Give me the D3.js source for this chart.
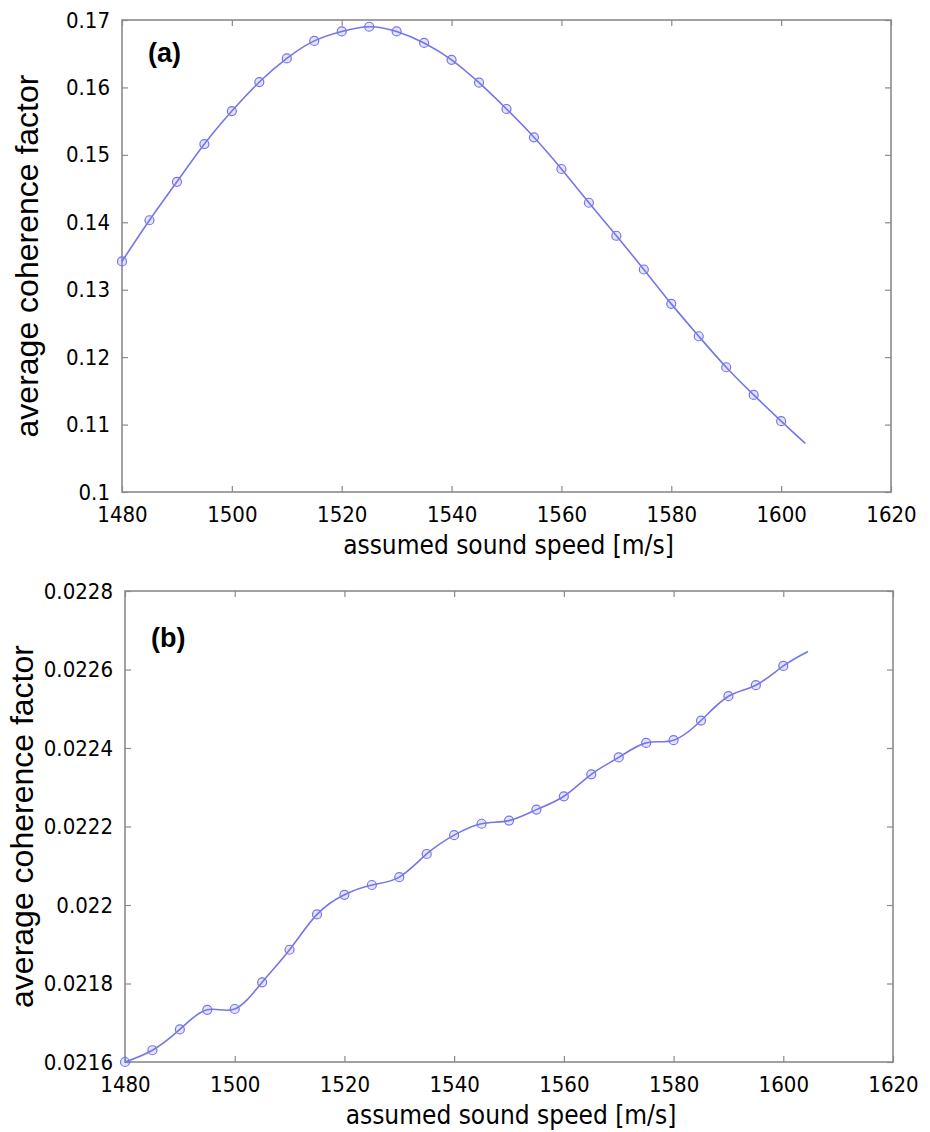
<!DOCTYPE html>
<html>
<head>
<meta charset="utf-8">
<script src="https://cdn.jsdelivr.net/npm/d3@7"></script>
<style>
  body { margin: 0; background: #fff; }
  .tick text { font-family: "DejaVu Sans Condensed", "DejaVu Sans", sans-serif; font-size: 22px; fill: #000; }
</style>
</head>
<body>
<div id="chart"></div>
<script>
// ---- data ----
const speeds = [1480, 1485, 1490, 1495, 1500, 1505, 1510, 1515, 1520, 1525, 1530, 1535, 1540,
                1545, 1550, 1555, 1560, 1565, 1570, 1575, 1580, 1585, 1590, 1595, 1600];
const coherenceA = [0.1342, 0.1403, 0.1460, 0.1516, 0.1565, 0.1608, 0.1643, 0.1669, 0.1683, 0.1690,
                    0.1683, 0.1666, 0.1641, 0.1607, 0.1568, 0.1526, 0.1479, 0.1429, 0.1380, 0.1330,
                    0.1279, 0.1231, 0.1185, 0.1144, 0.1105];
const coherenceB = [0.02160, 0.02163, 0.021683, 0.021733, 0.021735, 0.021803, 0.021886, 0.021976, 0.022026,
                    0.022051, 0.022071, 0.02213, 0.022178, 0.022207, 0.022215, 0.022243, 0.022277, 0.022333,
                    0.022376, 0.022413, 0.02242, 0.02247, 0.022532, 0.02256, 0.022609];
// the fitted curve runs a little past the last sample
const tailA = [1604.4, 0.1072];
const tailB = [1604.5, 0.022646];

const xTicks = [1480, 1500, 1520, 1540, 1560, 1580, 1600, 1620];
const yTicksA = [0.1, 0.11, 0.12, 0.13, 0.14, 0.15, 0.16, 0.17];
const yTicksB = [0.0216, 0.0218, 0.022, 0.0222, 0.0224, 0.0226, 0.0228];

const lineColor = "#7676e8";
const frameColor = "#8a8a8a";

const svg = d3.select("#chart").append("svg")
    .attr("width", 930)
    .attr("height", 1132);

function panel(opt) {
    const w = opt.right - opt.left, h = opt.bottom - opt.top;
    const g = svg.append("g").attr("transform", `translate(${opt.left},${opt.top})`);

    const x = d3.scaleLinear().domain([1480, 1620]).range([0, w]);
    const y = d3.scaleLinear().domain(d3.extent(opt.yTicks)).range([h, 0]);

    // axes, ticks pointing inward
    g.append("g").attr("transform", `translate(0,${h})`)
        .call(d3.axisBottom(x).tickValues(xTicks).tickSize(-6).tickPadding(14).tickFormat(d3.format("d")));
    g.append("g")
        .call(d3.axisTop(x).tickValues(xTicks).tickSize(-6).tickFormat(""));
    g.append("g")
        .call(d3.axisLeft(y).tickValues(opt.yTicks).tickSize(-6).tickPadding(12).tickFormat(opt.fmt));
    g.append("g").attr("transform", `translate(${w},0)`)
        .call(d3.axisRight(y).tickValues(opt.yTicks).tickSize(-6).tickFormat(""));

    g.selectAll(".domain").remove();
    g.selectAll(".tick line").attr("stroke", frameColor).attr("stroke-width", 1.2);

    g.append("rect")
        .attr("width", w).attr("height", h)
        .attr("fill", "none")
        .attr("stroke", frameColor)
        .attr("stroke-width", 1.6);

    const pts = speeds.map((s, i) => [s, opt.values[i]]);
    const line = d3.line()
        .x(d => x(d[0]))
        .y(d => y(d[1]))
        .curve(d3.curveNatural);

    g.append("path")
        .datum(pts.concat([opt.tail]))
        .attr("fill", "none")
        .attr("stroke", lineColor)
        .attr("stroke-width", 1.6)
        .attr("d", line);

    g.selectAll(".mk").data(pts).enter().append("circle")
        .attr("class", "mk")
        .attr("cx", d => x(d[0]))
        .attr("cy", d => y(d[1]))
        .attr("r", 4.5)
        .attr("fill", "rgba(120,120,240,0.2)")
        .attr("stroke", lineColor)
        .attr("stroke-width", 1.2);

    g.append("text")
        .attr("x", 26).attr("y", opt.tagY)
        .style("font-family", "Liberation Sans, Arial, sans-serif")
        .style("font-weight", "bold")
        .style("font-size", "27px")
        .text(opt.tag);

    g.append("text")
        .attr("x", w / 2 + 2).attr("y", h + 62)
        .attr("text-anchor", "middle")
        .style("font-family", "DejaVu Sans Condensed, DejaVu Sans, sans-serif")
        .style("font-size", "26px")
        .text("assumed sound speed [m/s]");

    g.append("text")
        .attr("transform", `translate(${opt.ylabX},${h / 2}) rotate(-90)`)
        .attr("text-anchor", "middle")
        .style("font-family", "Liberation Sans, Arial, sans-serif")
        .style("font-size", "32px")
        .text("average coherence factor");
}

panel({
    left: 122, right: 891, top: 20, bottom: 492,
    values: coherenceA, tail: tailA, yTicks: yTicksA,
    fmt: d => String(+d.toFixed(2)),
    tag: "(a)", tagY: 42, ylabX: -84
});

panel({
    left: 125, right: 893, top: 591, bottom: 1062,
    values: coherenceB, tail: tailB, yTicks: yTicksB,
    fmt: d => String(+d.toFixed(4)),
    tag: "(b)", tagY: 56, ylabX: -92
});
</script>
</body>
</html>
